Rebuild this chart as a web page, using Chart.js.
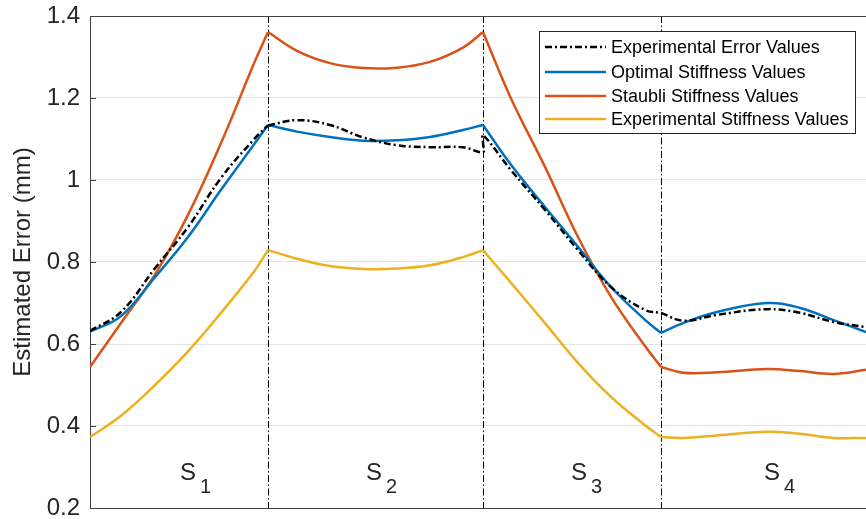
<!DOCTYPE html>
<html>
<head>
<meta charset="utf-8">
<script src="https://cdn.jsdelivr.net/npm/chart.js@4.4.1/dist/chart.umd.min.js"></script>
<style>
  body { margin: 0; background: #fff; }
  canvas { display: block; }
</style>
</head>
<body>
<canvas id="myChart" width="866" height="519"></canvas>
<script>
// positions along the path (null entries split the four segments)
var xPos = [0, 3.1, 6.5, 9.8, 13.1, 16.5, 17.8, 17.8,
            17.8, 20.7, 24.0, 27.3, 30.7, 34.0, 37.3, 39.3, 39.3,
            39.3, 42.1, 45.5, 48.8, 52.1, 55.5, 57.1, 57.1,
            57.1, 59.3, 62.7, 67.7, 71.0, 74.3, 77.6];

var experimentalError = [0.632, 0.678, 0.785, 0.885, 1.005, 1.102, 1.133, null,
                         1.133, 1.146, 1.134, 1.104, 1.085, 1.080, 1.080, 1.068, 1.090,
                         1.110, 1.024, 0.927, 0.829, 0.739, 0.683, 0.676, null,
                         0.676, 0.657, 0.671, 0.685, 0.676, 0.654, 0.641];
var optimalStiffness = [0.630, 0.668, 0.763, 0.861, 0.976, 1.090, 1.134, null,
                        1.134, 1.118, 1.105, 1.096, 1.097, 1.105, 1.122, 1.134, null,
                        1.134, 1.037, 0.934, 0.837, 0.739, 0.659, 0.627, null,
                        0.627, 0.651, 0.678, 0.700, 0.688, 0.659, 0.629];
var staubliStiffness = [0.544, 0.651, 0.770, 0.915, 1.090, 1.290, 1.361, null,
                        1.361, 1.315, 1.285, 1.273, 1.274, 1.288, 1.323, 1.361, null,
                        1.361, 1.199, 1.032, 0.861, 0.715, 0.595, 0.544, null,
                        0.544, 0.530, 0.531, 0.539, 0.534, 0.527, 0.537];
var experimentalStiffness = [0.373, 0.425, 0.500, 0.582, 0.676, 0.780, 0.829, null,
                             0.829, 0.808, 0.790, 0.783, 0.784, 0.792, 0.812, 0.829, null,
                             0.829, 0.749, 0.651, 0.554, 0.471, 0.402, 0.373, null,
                             0.373, 0.371, 0.377, 0.386, 0.381, 0.371, 0.371];

var segmentEdges = [17.8, 39.3, 57.1];
var segmentNames = ['1', '2', '3', '4'];
var segmentLabelX = [9.8, 28.4, 48.9, 68.2];
var yTicks = [0.2, 0.4, 0.6, 0.8, 1, 1.2, 1.4];

var FONT = '"Liberation Sans", Arial, Helvetica, sans-serif';
var AXIS = '#404040';

function pts(arr) {
  return xPos.map(function (x, i) { return { x: x, y: arr[i] }; });
}

var series = [
  { label: 'Experimental Error Values', data: experimentalError, color: '#000000', dash: [7, 3, 2, 3] },
  { label: 'Optimal Stiffness Values', data: optimalStiffness, color: '#0072BD', dash: [] },
  { label: 'Staubli Stiffness Values', data: staubliStiffness, color: '#D95319', dash: [] },
  { label: 'Experimental Stiffness Values', data: experimentalStiffness, color: '#EDB120', dash: [] }
];

var decor = {
  id: 'decor',
  beforeDatasetsDraw: function (chart) {
    var c = chart.ctx, a = chart.chartArea, xs = chart.scales.x;
    c.save();
    c.strokeStyle = '#000';
    c.lineWidth = 1;
    c.setLineDash([7, 2.5, 1.5, 2.5]);
    segmentEdges.forEach(function (e) {
      var px = Math.round(xs.getPixelForValue(e)) + 0.5;
      c.beginPath(); c.moveTo(px, a.top); c.lineTo(px, a.bottom); c.stroke();
    });
    c.restore();
  },
  afterDraw: function (chart) {
    var c = chart.ctx, a = chart.chartArea, xs = chart.scales.x, ys = chart.scales.y;
    c.save();
    // top box line + inner ticks
    c.strokeStyle = AXIS;
    c.lineWidth = 1;
    c.beginPath(); c.moveTo(a.left, a.top + 0.5); c.lineTo(a.right, a.top + 0.5); c.stroke();
    yTicks.forEach(function (t) {
      var py = Math.round(ys.getPixelForValue(t)) + 0.5;
      c.beginPath(); c.moveTo(a.left, py); c.lineTo(a.left + 6, py); c.stroke();
    });
    // segment labels
    c.fillStyle = '#262626';
    c.textBaseline = 'alphabetic';
    c.textAlign = 'left';
    var base = a.bottom - 28;
    segmentLabelX.forEach(function (v, i) {
      var cx = xs.getPixelForValue(v);
      c.font = '24px ' + FONT;
      var w = c.measureText('S').width;
      c.fillText('S', cx - w / 2, base);
      c.font = '20px ' + FONT;
      c.fillText(segmentNames[i], cx + w / 2 + 4, base + 13);
    });
    // legend
    var lx = 539.5, ly = 31.5, lw = 316, lh = 102;
    c.fillStyle = '#fff';
    c.fillRect(lx, ly, lw, lh);
    c.strokeStyle = '#262626';
    c.lineWidth = 1;
    c.strokeRect(lx, ly, lw, lh);
    var rows = [47, 72, 96, 119];
    c.font = '18px ' + FONT;
    c.textBaseline = 'middle';
    series.forEach(function (s, i) {
      c.strokeStyle = s.color;
      c.lineWidth = 2.5;
      c.setLineDash(s.dash);
      c.beginPath(); c.moveTo(545, rows[i]); c.lineTo(606, rows[i]); c.stroke();
      c.setLineDash([]);
      c.fillStyle = '#000';
      c.fillText(s.label, 611, rows[i] + 1);
    });
    c.restore();
  }
};

Chart.defaults.font.family = FONT;

var ctx = document.getElementById('myChart').getContext('2d');
var myChart = new Chart(ctx, {
  type: 'line',
  data: {
    datasets: series.map(function (s) {
      return {
        label: s.label,
        data: pts(s.data),
        borderColor: s.color,
        borderWidth: 2.5,
        borderDash: s.dash,
        pointRadius: 0,
        fill: false,
        spanGaps: false,
        tension: 0.4
      };
    })
  },
  options: {
    responsive: false,
    animation: false,
    layout: { padding: { top: 16, right: 0, left: 0, bottom: 0 } },
    plugins: { legend: { display: false }, tooltip: { enabled: false } },
    scales: {
      x: {
        type: 'linear',
        min: 0,
        max: 77.6,
        ticks: { display: false },
        grid: { display: false },
        border: { display: true, color: AXIS, width: 1 },
        afterFit: function (s) { s.height = 11; s.paddingLeft = 0; s.paddingRight = 0; }
      },
      y: {
        min: 0.2,
        max: 1.4,
        afterBuildTicks: function (s) { s.ticks = yTicks.map(function (v) { return { value: v }; }); },
        ticks: {
          color: '#262626',
          padding: 10,
          font: { size: 24 },
          callback: function (v) { return String(parseFloat(Number(v).toFixed(1))); }
        },
        grid: { color: '#e3e3e3', drawTicks: false },
        border: { display: true, color: AXIS, width: 1 },
        title: {
          display: true,
          text: 'Estimated Error (mm)',
          color: '#262626',
          font: { size: 24 },
          padding: { top: 9, bottom: 0 }
        },
        afterFit: function (s) { s.width = 90; s.paddingTop = 0; s.paddingBottom = 0; }
      }
    }
  },
  plugins: [decor]
});
</script>
</body>
</html>
